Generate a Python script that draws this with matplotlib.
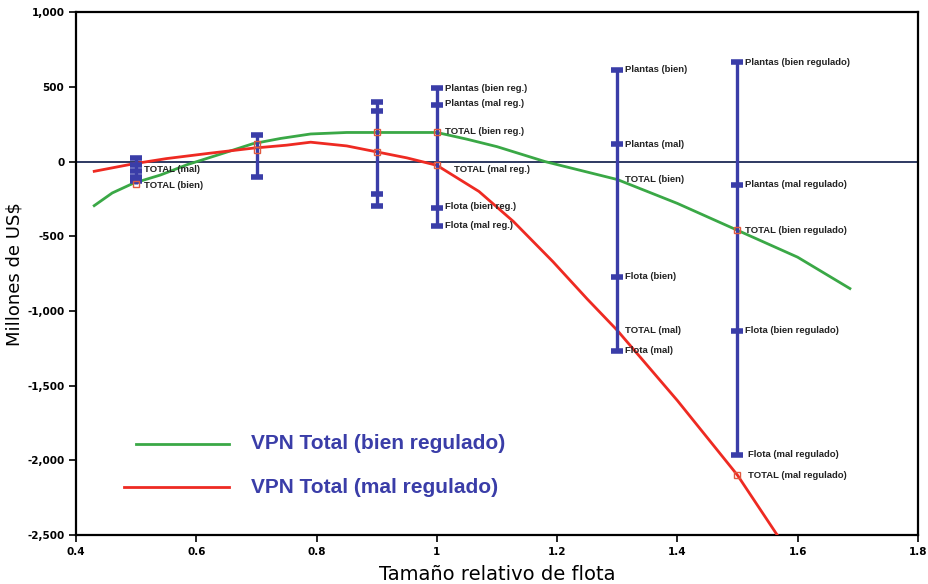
import numpy as np
import matplotlib.pyplot as plt

# curvas VPN total
x_bien = [0.43, 0.46, 0.495, 0.54, 0.585, 0.64, 0.694, 0.74, 0.79, 0.85, 0.9, 0.95, 1.0, 1.05, 1.1, 1.18, 1.3, 1.4, 1.5, 1.6, 1.687]
y_bien = [-295, -210, -145, -90, -20, 50, 120, 155, 185, 195, 195, 195, 195, 150, 100, 0, -120, -280, -460, -640, -850]

x_mal = [0.43, 0.495, 0.55, 0.62, 0.694, 0.75, 0.79, 0.85, 0.9, 0.95, 1.0, 1.07, 1.127, 1.193, 1.25, 1.3, 1.4, 1.5, 1.566]
y_mal = [-65, -15, 20, 55, 90, 110, 130, 105, 65, 25, -25, -200, -400, -670, -920, -1130, -1600, -2100, -2500]

# barras (posicion x, extremos y marcas)
bar_x = [0.5, 0.7, 0.9, 1.0, 1.3, 1.5]
bar_top = [25, 180, 400, 490, 615, 665]
bar_bot = [-150, -100, -295, -430, -1265, -1965]
bar_marks = [[25, -20, -60, -100, -130],
             [180, -100],
             [400, 340, -220, -295],
             [490, 380, -310, -430],
             [615, 115, -770, -1265],
             [665, -155, -1135, -1965]]

# marcas TOTAL (cuadrados)
tot_x = [0.5, 0.7, 0.7, 0.9, 0.9, 1.0, 1.0, 1.5, 1.5]
tot_y = [-150, 115, 80, 195, 65, 195, -25, -460, -2100]

# etiquetas
lab_x = [0.505, 0.505, 1.005, 1.005, 1.005, 1.02, 1.005, 1.005,
         1.305, 1.305, 1.305, 1.305, 1.305, 1.305,
         1.505, 1.505, 1.505, 1.505, 1.51, 1.51]
lab_y = [-55, -160, 490, 390, 200, -55, -300, -430,
         620, 115, -120, -770, -1130, -1265,
         665, -150, -460, -1130, -1960, -2100]
lab_txt = ['TOTAL (mal)', 'TOTAL (bien)',
           'Plantas (bien reg.)', 'Plantas (mal reg.)', 'TOTAL (bien reg.)',
           'TOTAL (mal reg.)', 'Flota (bien reg.)', 'Flota (mal reg.)',
           'Plantas (bien)', 'Plantas (mal)', 'TOTAL (bien)', 'Flota (bien)',
           'TOTAL (mal)', 'Flota (mal)',
           'Plantas (bien regulado)', 'Plantas (mal regulado)',
           'TOTAL (bien regulado)', 'Flota (bien regulado)',
           'Flota (mal regulado)', 'TOTAL (mal regulado)']

azul = '#3a3da8'

fig = plt.figure(figsize=(9.29, 5.84), dpi=100)
ax = fig.add_axes([0.082, 0.084, 0.906, 0.895])

ax.axhline(0, color='#1c2a55', lw=1.3, zorder=1)

ax.plot(x_bien, y_bien, color='#3aa846', lw=2, zorder=3)
ax.plot(x_mal, y_mal, color='#ee2a22', lw=2, zorder=3)

for i in range(len(bar_x)):
    ax.vlines(bar_x[i], bar_bot[i], bar_top[i], color=azul, lw=2.4, zorder=4)
    ax.plot([bar_x[i]] * len(bar_marks[i]), bar_marks[i], ls='none', marker='_',
            ms=8, mew=4, color=azul, zorder=5)

ax.plot(tot_x, tot_y, ls='none', marker='s', ms=5, mfc='none', mec='#e05a40', mew=1, zorder=6)

for xx, yy, t in zip(lab_x, lab_y, lab_txt):
    ax.text(xx + 0.008, yy, t, fontsize=6.8, fontweight='bold', color='#222222',
            va='center', ha='left', family='Liberation Sans', zorder=7)

# leyenda manual
ax.plot([0.5, 0.655], [-1890, -1890], color='#3aa846', lw=2)
ax.plot([0.48, 0.655], [-2180, -2180], color='#ee2a22', lw=2)
ax.text(0.69, -1890, 'VPN Total (bien regulado)', color=azul, fontsize=15, va='center',
        fontweight='bold', family='Liberation Sans')
ax.text(0.69, -2180, 'VPN Total (mal regulado)', color=azul, fontsize=15, va='center',
        fontweight='bold', family='Liberation Sans')

ax.set_xlim(0.4, 1.8)
ax.set_ylim(-2500, 1000)
ax.set_xticks([0.4, 0.6, 0.8, 1.0, 1.2, 1.4, 1.6, 1.8])
ax.set_xticklabels(['0.4', '0.6', '0.8', '1', '1.2', '1.4', '1.6', '1.8'])
ax.set_yticks([1000, 500, 0, -500, -1000, -1500, -2000, -2500])
ax.set_yticklabels(['1,000', '500', '0', '-500', '-1,000', '-1,500', '-2,000', '-2,500'])
ax.tick_params(direction='out', length=5, width=1.2, labelsize=7.5)
for lb in ax.get_xticklabels() + ax.get_yticklabels():
    lb.set_fontweight('bold')
for s in ax.spines.values():
    s.set_linewidth(1.6)

ax.set_ylabel('Millones de US$', fontsize=13)
ax.yaxis.set_label_coords(-0.062, 0.5)
ax.set_xlabel('Tamaño relativo de flota', fontsize=14, labelpad=6)

plt.savefig('out.png', dpi=100)
